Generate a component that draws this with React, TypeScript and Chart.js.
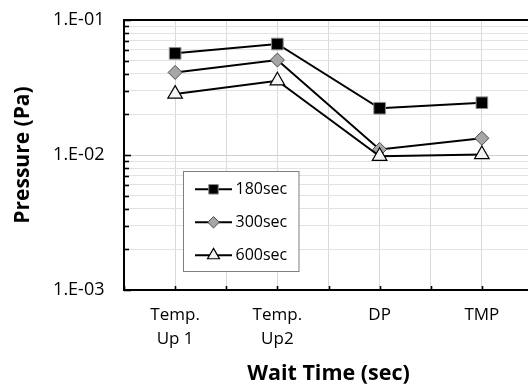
import React, { useEffect, useRef } from "react";
import { Chart, registerables } from "chart.js";
import { drawPoint } from "chart.js/helpers";

Chart.register(...registerables);

// ---- data ----
const categories: (string | string[])[] = [["Temp.", "Up 1"], ["Temp.", "Up2"], "DP", "TMP"];
const seriesNames = ["180sec", "300sec", "600sec"];
const values180 = [0.0566, 0.0664, 0.0222, 0.0244];
const values300 = [0.0409, 0.0505, 0.011, 0.0133];
const values600 = [0.0283, 0.0355, 0.0098, 0.0101];
const yMin = 0.001;
const yMax = 0.1;
const yTitle = "Pressure (Pa)";
const xTitle = "Wait Time (sec)";

const FONT = "'Open Sans', 'DejaVu Sans', sans-serif";

type Style = { pointStyle: string; radius: number; fill: string; border: string; borderWidth: number };
const styles: Style[] = [
  { pointStyle: "rect", radius: 8.2, fill: "#000000", border: "#8a8a8a", borderWidth: 1 },
  { pointStyle: "rectRot", radius: 7, fill: "#a6a6a6", border: "#4d4d4d", borderWidth: 1 },
  { pointStyle: "triangle", radius: 8.4, fill: "#f4f4f4", border: "#000000", borderWidth: 1.2 },
];
const seriesValues = [values180, values300, values600];

function isDecade(v: number) {
  const l = Math.log10(v);
  return Math.abs(l - Math.round(l)) < 1e-6;
}
function isIntSignificand(v: number) {
  const e = Math.floor(Math.log10(v) + 1e-9);
  const s = v / Math.pow(10, e);
  return Math.abs(s - Math.round(s)) < 1e-6;
}
function fmtSci(v: number) {
  const e = Math.round(Math.log10(v));
  const s = Math.abs(e).toString().padStart(2, "0");
  return `1.E${e < 0 ? "-" : "+"}${s}`;
}

const framePlugin = {
  id: "frameTicks",
  afterDatasetsDraw(chart: any) {
    const { ctx, chartArea: a, scales } = chart;
    ctx.save();
    ctx.strokeStyle = "#000";
    ctx.lineWidth = 1.6;
    const ys = scales.y;
    ys.ticks.forEach((t: any) => {
      const py = Math.round(ys.getPixelForValue(t.value)) + 0.5;
      const len = isDecade(t.value) ? 7 : 5;
      ctx.beginPath();
      ctx.moveTo(a.left, py);
      ctx.lineTo(a.left + len, py);
      ctx.stroke();
    });
    const xs = scales.x;
    xs.ticks.forEach((t: any) => {
      const px = Math.round(xs.getPixelForValue(t.value)) + 0.5;
      ctx.beginPath();
      ctx.moveTo(px, a.bottom);
      ctx.lineTo(px, a.bottom - 4);
      ctx.stroke();
    });
    ctx.lineWidth = 2;
    ctx.strokeRect(a.left, a.top, a.right - a.left, a.bottom - a.top);
    ctx.restore();
  },
};

const legendPlugin = {
  id: "insideLegend",
  afterDraw(chart: any) {
    const { ctx, chartArea: a } = chart;
    const bx = a.left + 59.5;
    const by = a.top + 151.5;
    const bw = 115.5;
    const bh = 100;
    ctx.save();
    ctx.fillStyle = "#ffffff";
    ctx.fillRect(bx, by, bw, bh);
    ctx.strokeStyle = "#7f7f7f";
    ctx.lineWidth = 1;
    ctx.strokeRect(bx, by, bw, bh);
    seriesNames.forEach((name, i) => {
      const cy = by + 17.8 + i * 33;
      ctx.strokeStyle = "#000";
      ctx.lineWidth = 2;
      ctx.beginPath();
      ctx.moveTo(bx + 11.5, cy);
      ctx.lineTo(bx + 48.5, cy);
      ctx.stroke();
      const st = styles[i];
      ctx.fillStyle = st.fill;
      ctx.strokeStyle = st.border;
      ctx.lineWidth = st.borderWidth;
      drawPoint(ctx, { pointStyle: st.pointStyle as any, radius: st.radius * 0.82, rotation: 0, borderWidth: st.borderWidth }, bx + 30, cy);
      ctx.fillStyle = "#000";
      ctx.font = `16px ${FONT}`;
      ctx.textAlign = "left";
      ctx.textBaseline = "middle";
      ctx.fillText(name, bx + 52, cy);
    });
    ctx.restore();
  },
};

export default function App() {
  const ref = useRef<HTMLCanvasElement | null>(null);
  useEffect(() => {
    if (!ref.current) return;
    const datasets = seriesNames.map((name, i) => ({
      label: name,
      data: seriesValues[i].map((v, k) => ({ x: k, y: v })),
      borderColor: "#000000",
      borderWidth: 2,
      pointStyle: styles[i].pointStyle,
      pointRadius: styles[i].radius,
      pointBackgroundColor: styles[i].fill,
      pointBorderColor: styles[i].border,
      pointBorderWidth: styles[i].borderWidth,
      order: 3 - i,
      tension: 0,
    }));
    const chart = new Chart(ref.current, {
      type: "line",
      data: { datasets } as any,
      options: {
        animation: false,
        responsive: false,
        maintainAspectRatio: false,
        layout: { autoPadding: false, padding: { top: 20, left: 0, right: 0, bottom: 0 } },
        plugins: { legend: { display: false }, tooltip: { enabled: false } },
        scales: {
          x: {
            type: "linear",
            min: -0.5,
            max: 3.5,
            afterFit: (s: any) => {
              s.height = 99;
              s.paddingLeft = 0;
              s.paddingRight = 0;
            },
            afterBuildTicks: (s: any) => {
              const t = [];
              for (let k = -1; k <= 7; k++) t.push({ value: k / 2 });
              s.ticks = t;
            },
            ticks: {
              autoSkip: false,
              maxRotation: 0,
              padding: 13,
              color: "#000",
              font: { family: FONT, size: 17, lineHeight: 1.4 },
              callback: (v: any) => (Number.isInteger(v) && categories[v] !== undefined ? categories[v] : ""),
            },
            grid: { color: "#d9d9d9", lineWidth: 1, drawTicks: false },
            border: { display: false },
            title: {
              display: true,
              text: xTitle,
              color: "#000",
              font: { family: FONT, size: 21.5, weight: "bold" },
              padding: { top: 0, bottom: 2 },
            },
          },
          y: {
            type: "logarithmic",
            min: yMin,
            max: yMax,
            afterBuildTicks: (s: any) => {
              s.ticks = s.ticks.filter((t: any) => isIntSignificand(t.value));
            },
            afterFit: (s: any) => {
              s.width = 124;
              s.paddingTop = 0;
              s.paddingBottom = 0;
            },
            ticks: {
              autoSkip: false,
              padding: 19.5,
              color: "#000",
              font: { family: FONT, size: 18 },
              callback: (v: any) => (isDecade(Number(v)) ? fmtSci(Number(v)) : ""),
            },
            grid: {
              color: (c: any) => (c.tick && isDecade(c.tick.value) ? "#d0d0d0" : "#e2e2e2"),
              lineWidth: 1,
              drawTicks: false,
            },
            border: { display: false },
            title: {
              display: true,
              text: yTitle,
              color: "#000",
              font: { family: FONT, size: 21, weight: "bold" },
              padding: { top: 10, bottom: 0 },
            },
          },
        },
      },
      plugins: [framePlugin, legendPlugin],
    });
    return () => chart.destroy();
  }, []);
  return (
    <div style={{ position: "absolute", left: 0, top: 0, width: 528, height: 389, overflow: "hidden", background: "#fff" }}>
      <canvas ref={ref} width={533} height={389} style={{ display: "block" }} />
    </div>
  );
}
